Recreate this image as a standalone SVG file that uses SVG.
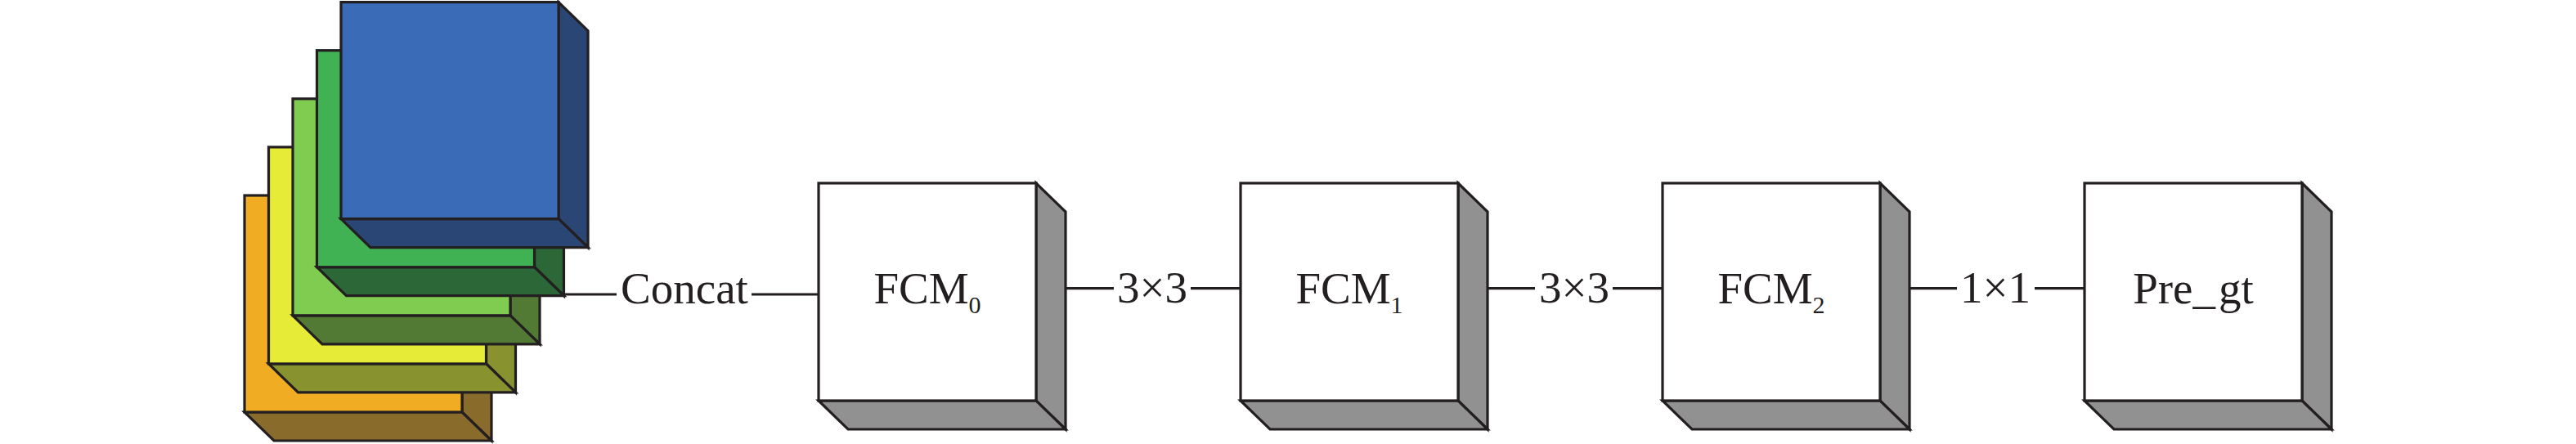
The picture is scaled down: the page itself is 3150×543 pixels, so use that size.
<svg xmlns="http://www.w3.org/2000/svg" width="3150" height="543" viewBox="0 0 3150 543">
<style>
.s{stroke:#231F20;stroke-width:3.2;stroke-linejoin:miter}
.w{fill:#FFFFFF}
.g{fill:#929192}
.t{font-family:"Liberation Serif","Times New Roman",serif;font-size:55px;fill:#231F20}
.sub{font-size:30px}
.ln{stroke:#231F20;stroke-width:3.2;fill:none}
</style>
<rect width="3150" height="543" fill="#FFFFFF"/>
<g id="input-stack">
  <g id="layer-orange">
    <polygon class="s" fill="#896C2B" points="565,239 601,274 601,539 565,504"/>
    <polygon class="s" fill="#896C2B" points="299,504 565,504 601,539 335,539"/>
    <rect class="s" fill="#F0AD24" x="299" y="239" width="266" height="265"/>
  </g>
  <g id="layer-yellow">
    <polygon class="s" fill="#88922F" points="594.5,179.9 630.5,214.9 630.5,479.9 594.5,444.9"/>
    <polygon class="s" fill="#88922F" points="328.5,444.9 594.5,444.9 630.5,479.9 364.5,479.9"/>
    <rect class="s" fill="#E5EB36" x="328.5" y="179.9" width="266" height="265"/>
  </g>
  <g id="layer-lightgreen">
    <polygon class="s" fill="#537A34" points="624,120.8 660,155.8 660,420.8 624,385.8"/>
    <polygon class="s" fill="#537A34" points="358,385.8 624,385.8 660,420.8 394,420.8"/>
    <rect class="s" fill="#80CC50" x="358" y="120.8" width="266" height="265"/>
  </g>
  <g id="layer-green">
    <polygon class="s" fill="#2C6737" points="653.5,61.7 689.5,96.7 689.5,361.7 653.5,326.7"/>
    <polygon class="s" fill="#2C6737" points="387.5,326.7 653.5,326.7 689.5,361.7 423.5,361.7"/>
    <rect class="s" fill="#40B253" x="387.5" y="61.7" width="266" height="265"/>
  </g>
  <g id="layer-blue">
    <polygon class="s" fill="#2A4675" points="683,2.6 719,37.6 719,302.6 683,267.6"/>
    <polygon class="s" fill="#2A4675" points="417,267.6 683,267.6 719,302.6 453,302.6"/>
    <rect class="s" fill="#3A6BB6" x="417" y="2.6" width="266" height="265"/>
  </g>
</g>
<g id="connectors">
  <line class="ln" x1="689" y1="360" x2="754" y2="360"/>
  <line class="ln" x1="919" y1="360" x2="1001" y2="360"/>
  <line class="ln" x1="1303" y1="352.7" x2="1362" y2="352.7"/>
  <line class="ln" x1="1456" y1="352.7" x2="1517" y2="352.7"/>
  <line class="ln" x1="1819" y1="352.7" x2="1877" y2="352.7"/>
  <line class="ln" x1="1972" y1="352.7" x2="2033" y2="352.7"/>
  <line class="ln" x1="2335" y1="352.7" x2="2393" y2="352.7"/>
  <line class="ln" x1="2488" y1="352.7" x2="2548" y2="352.7"/>
  <text class="t" x="837" y="371" text-anchor="middle">Concat</text>
  <text class="t" x="1409" y="370" text-anchor="middle">3×3</text>
  <text class="t" x="1925" y="370" text-anchor="middle">3×3</text>
  <text class="t" x="2440" y="370" text-anchor="middle">1×1</text>
</g>
<g id="FCM0">
  <polygon class="s g" points="1267,224 1303,259 1303,525 1267,490"/>
  <polygon class="s g" points="1001,490 1267,490 1303,525 1037,525"/>
  <rect class="s w" x="1001" y="224" width="266" height="266"/>
  <text class="t" x="1134" y="371" text-anchor="middle">FCM<tspan class="sub" dy="12">0</tspan></text>
</g>
<g id="FCM1">
  <polygon class="s g" points="1783,224 1819,259 1819,525 1783,490"/>
  <polygon class="s g" points="1517,490 1783,490 1819,525 1553,525"/>
  <rect class="s w" x="1517" y="224" width="266" height="266"/>
  <text class="t" x="1650" y="371" text-anchor="middle">FCM<tspan class="sub" dy="12">1</tspan></text>
</g>
<g id="FCM2">
  <polygon class="s g" points="2299,224 2335,259 2335,525 2299,490"/>
  <polygon class="s g" points="2033,490 2299,490 2335,525 2069,525"/>
  <rect class="s w" x="2033" y="224" width="266" height="266"/>
  <text class="t" x="2166" y="371" text-anchor="middle">FCM<tspan class="sub" dy="12">2</tspan></text>
</g>
<g id="Pre_gt">
  <polygon class="s g" points="2815,224 2851,259 2851,525 2815,490"/>
  <polygon class="s g" points="2549,490 2815,490 2851,525 2585,525"/>
  <rect class="s w" x="2549" y="224" width="266" height="266"/>
  <text class="t" x="2682" y="371" text-anchor="middle">Pre_<tspan dx="4">gt</tspan></text>
</g>
</svg>
